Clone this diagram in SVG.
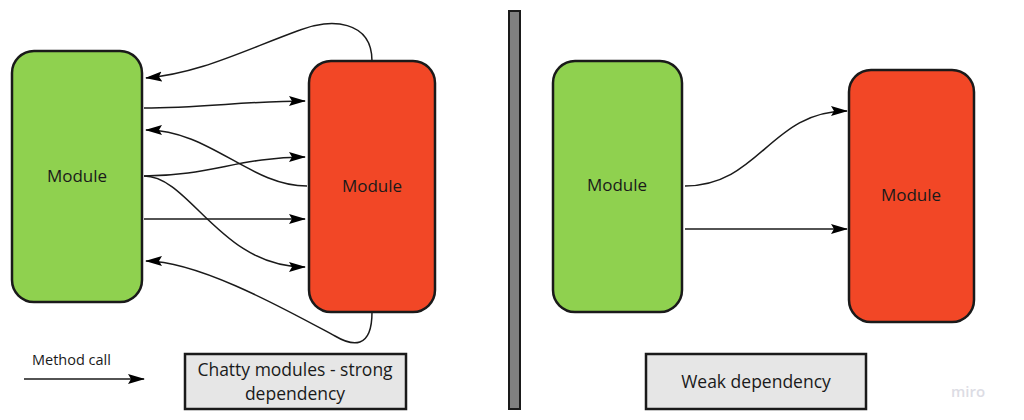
<svg xmlns="http://www.w3.org/2000/svg" width="1024" height="420" viewBox="0 0 1024 420">
<style>
.green{fill:#8fd14f;stroke:#1a1a1a;stroke-width:2.5}
.red{fill:#f24726;stroke:#1a1a1a;stroke-width:2.5}
.note{fill:#e6e6e6;stroke:#1a1a1a;stroke-width:2.5}
.lbl{font-family:"Open Sans","Liberation Sans",sans-serif;font-size:17px;fill:#1a1a1a;text-anchor:middle}
.big{font-size:17.5px}
.conn path{fill:none;stroke:#1a1a1a;stroke-width:1.5;marker-end:url(#arr)}
</style>
<defs>
<marker id="arr" markerUnits="userSpaceOnUse" markerWidth="18" markerHeight="12" refX="16" refY="5" orient="auto" viewBox="0 0 18 10">
<path d="M0,0 L17,5 L0,10 L3,5 z" fill="#000"/>
</marker>
</defs>
<rect width="1024" height="420" fill="#fff"/>
<g id="divider"><rect x="509" y="11" width="11" height="398" fill="#808080" stroke="#1a1a1a" stroke-width="2"/></g>
<g id="chatty-a"><rect class="green" x="12" y="51" width="130" height="251" rx="22"/><text class="lbl" x="77" y="182">Module</text></g>
<g id="chatty-b"><rect class="red" x="309" y="61" width="126" height="251" rx="22"/><text class="lbl" x="372" y="192">Module</text></g>
<g id="weak-a"><rect class="green" x="553" y="61" width="129" height="251" rx="22"/><text class="lbl" x="617" y="191">Module</text></g>
<g id="weak-b"><rect class="red" x="849" y="70" width="125" height="252" rx="22"/><text class="lbl" x="911" y="201">Module</text></g>
<g id="chatty-note"><rect class="note" x="185" y="354" width="221" height="55"/><text class="lbl big" x="295" y="376">Chatty modules - strong</text><text class="lbl big" x="295" y="400">dependency</text></g>
<g id="weak-note"><rect class="note" x="646" y="354" width="220" height="55"/><text class="lbl big" x="756" y="388">Weak dependency</text></g>
<g id="legend"><text x="32" y="365" font-family="'Open Sans','Liberation Sans',sans-serif" font-size="14.5" fill="#1a1a1a">Method call</text></g>
<g class="conn" id="connectors">
<path d="M372,61 C372,20 330,18 300,30 C240,52 200,73 146,78"/>
<path d="M144,108 C200,108 250,101 305,101"/>
<path d="M307,186 C250,186 210,130 146,130"/>
<path d="M144,176 C210,176 240,157 305,157"/>
<path d="M144,176 C190,176 220,267 305,267"/>
<path d="M144,219 L305,219"/>
<path d="M372,312 C372,350 352,346 335,336 C290,312 200,261 146,261"/>
<path d="M685,186 C760,186 770,111 847,111"/>
<path d="M685,229 L847,229"/>
<path d="M24,379 L144,379"/>
</g>
<text x="968" y="397" font-family="'Open Sans','Liberation Sans',sans-serif" font-size="15" font-weight="600" fill="#dcdce4" text-anchor="middle">miro</text>
</svg>
